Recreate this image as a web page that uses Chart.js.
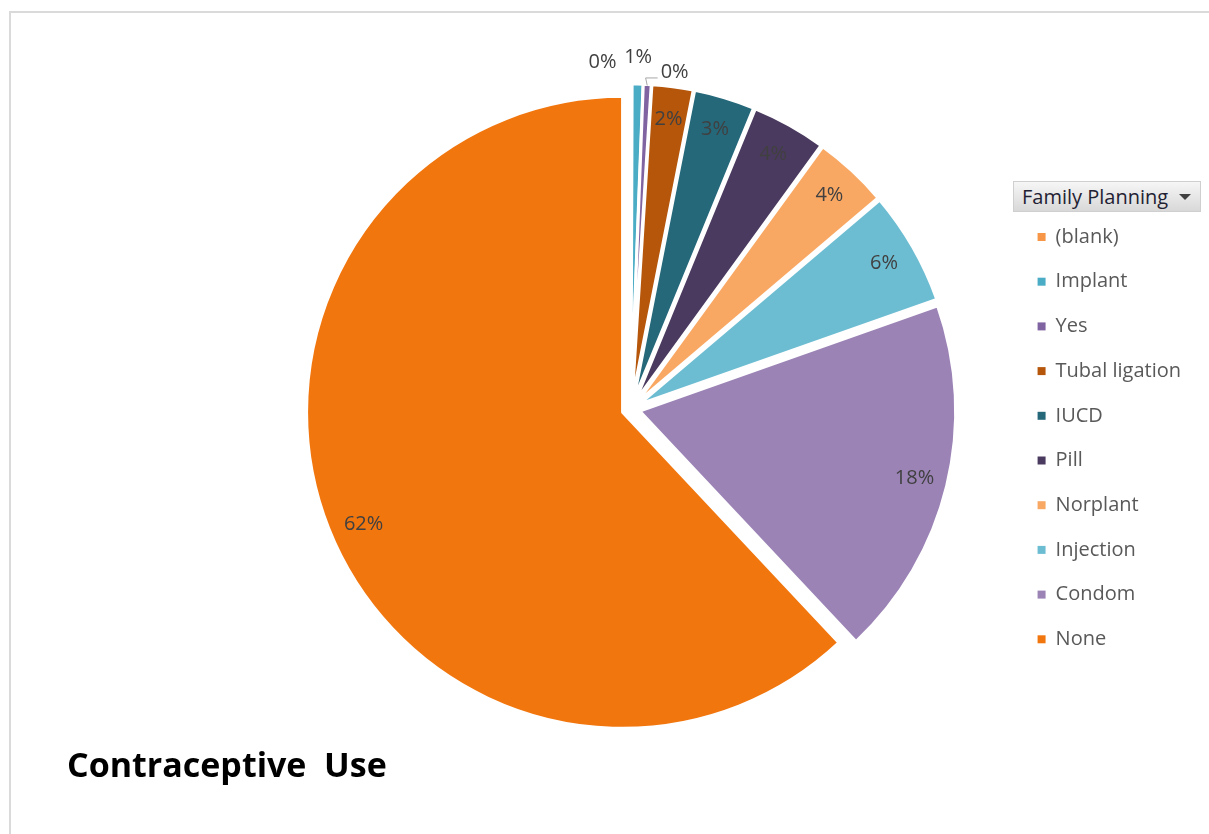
<!DOCTYPE html>
<html>
<head>
<meta charset="utf-8">
<script src="https://cdn.jsdelivr.net/npm/chart.js@4.4.1/dist/chart.umd.min.js"></script>
<style>
  html, body { margin: 0; padding: 0; background: #ffffff; }
  #wrap { position: relative; width: 1209px; height: 834px; overflow: hidden; background: #fff; }
  #frame { position: absolute; left: 9px; top: 11px; right: -10px; bottom: -10px;
           border-top: 2px solid #dadada; border-left: 2px solid #dadada; }
  #chart { position: absolute; left: 0; top: 0; }
  #fieldBtn { position: absolute; left: 1013px; top: 181px; width: 188px; height: 31px;
              background: linear-gradient(#f6f6f6, #d8d8d8); border: 1px solid #cfcfcf; box-sizing: border-box;
              font-family: "Open Sans", sans-serif; font-size: 20px; line-height: 29px; color: #1f2233;
              padding-left: 8px; white-space: nowrap; }
  #fieldBtn .arrow { position: absolute; right: 9px; top: 12px; width: 0; height: 0;
              border-left: 6px solid transparent; border-right: 6px solid transparent; border-top: 6px solid #404040; }
  #chartTitle { position: absolute; left: 67px; top: 747px; font-family: "Open Sans", sans-serif; font-weight: 700;
                font-size: 34px; line-height: 34px; color: #000; white-space: pre; }
</style>
</head>
<body>
<div id="wrap">
  <div id="frame"></div>
  <canvas id="chart" width="1209" height="834"></canvas>
  <div id="fieldBtn">Family Planning<span class="arrow"></span></div>
  <div id="chartTitle">Contraceptive  Use</div>
</div>
<script>
// ---- data ----
const categories = ['(blank)', 'Implant', 'Yes', 'Tubal ligation', 'IUCD', 'Pill', 'Norplant', 'Injection', 'Condom', 'None'];
const shares = [0.05, 0.55, 0.4, 2.1, 3.1, 3.8, 3.8, 5.8, 18.4, 62.0];   // percent of respondents
const sliceColors = ['#F79646', '#4BACC6', '#8064A2', '#B5560B', '#25687A', '#4B3A5F', '#F9A864', '#6DBDD2', '#9B83B6', '#F2760E'];

// ---- style settings ----
const EXPLODE = 9;        // pixels each slice is pulled out along its bisector
const outsideLabels = {   // small slices labelled outside the pie (nudges in px)
  0: { dx: -29, dy: 5 },
  1: { dx: 0, dy: 0 },
  2: { dx: 26, dy: 15, leader: true }
};
const insideNudges = { 9: { dx: 4, dy: 8 } };

const explodePlugin = {
  id: 'explodeSlices',
  afterDatasetsUpdate(chart) {
    chart.getDatasetMeta(0).data.forEach(arc => {
      const mid = (arc.startAngle + arc.endAngle) / 2;
      arc.x += Math.cos(mid) * EXPLODE;
      arc.y += Math.sin(mid) * EXPLODE;
    });
  }
};

const labelPlugin = {
  id: 'sliceLabels',
  afterDatasetsDraw(chart) {
    const ctx = chart.ctx;
    const meta = chart.getDatasetMeta(0);
    const values = chart.data.datasets[0].data;
    const total = values.reduce((a, b) => a + b, 0);
    ctx.save();
    ctx.font = '20px "Open Sans", sans-serif';
    ctx.fillStyle = '#404040';
    ctx.textAlign = 'center';
    ctx.textBaseline = 'middle';
    meta.data.forEach((arc, i) => {
      const mid = (arc.startAngle + arc.endAngle) / 2;
      const txt = Math.round(values[i] / total * 100) + '%';
      const o = outsideLabels[i];
      if (o) {
        const r = arc.outerRadius + 27;
        const x = arc.x + Math.cos(mid) * r + o.dx;
        const y = arc.y + Math.sin(mid) * r + o.dy;
        if (o.leader) {
          const tx = arc.x + Math.cos(mid) * (arc.outerRadius - 1);
          const ty = arc.y + Math.sin(mid) * (arc.outerRadius - 1);
          ctx.save();
          ctx.strokeStyle = '#a6a6a6';
          ctx.lineWidth = 1;
          ctx.beginPath();
          ctx.moveTo(tx, ty);
          ctx.lineTo(x - 29, y + 5.5);
          ctx.lineTo(x - 17, y + 5.5);
          ctx.stroke();
          ctx.restore();
        }
        ctx.fillText(txt, x, y);
      } else {
        const n = insideNudges[i] || { dx: 0, dy: 0 };
        const r = arc.outerRadius * 0.895;
        ctx.fillText(txt, arc.x + Math.cos(mid) * r + n.dx, arc.y + Math.sin(mid) * r + n.dy);
      }
    });
    ctx.restore();
  }
};

new Chart(document.getElementById('chart'), {
  type: 'pie',
  data: {
    labels: categories,
    datasets: [{
      data: shares,
      backgroundColor: sliceColors,
      borderColor: '#ffffff',
      borderWidth: 3,
      radius: 316
    }]
  },
  plugins: [explodePlugin, labelPlugin],
  options: {
    responsive: false,
    animation: false,
    layout: { padding: { left: 249, right: 18, top: 134, bottom: 150 } },
    plugins: {
      tooltip: { enabled: false },
      title: { display: false },
      legend: {
        position: 'right',
        align: 'start',
        title: { display: true, text: ' ', font: { size: 20, lineHeight: 1 }, padding: { top: 48.3, bottom: 0 } },
        labels: {
          boxWidth: 8,
          boxHeight: 8,
          padding: 24.7,
          color: '#595959',
          font: { family: '"Open Sans", sans-serif', size: 20 },
          generateLabels(chart) {
            const base = Chart.overrides.pie.plugins.legend.labels.generateLabels(chart);
            return base.map(l => Object.assign(l, { lineWidth: 0, strokeStyle: 'rgba(0,0,0,0)' }));
          }
        }
      }
    }
  }
});
</script>
</body>
</html>
